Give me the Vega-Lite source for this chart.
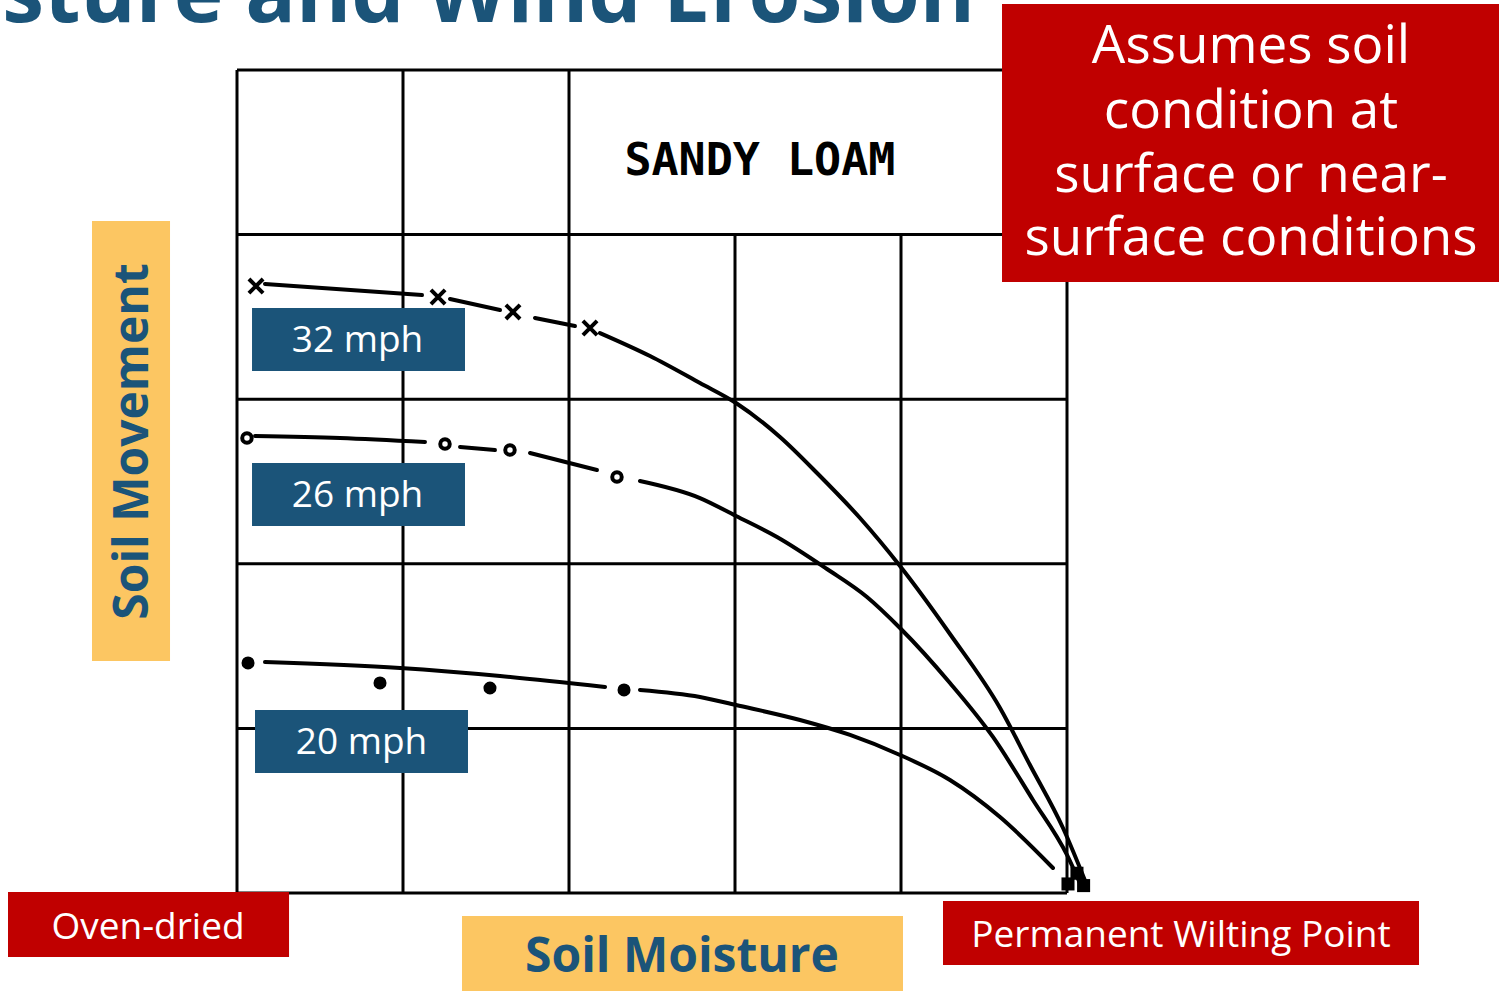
{
  "$schema": "https://vega.github.io/schema/vega-lite/v6.json",
  "autosize": {"type": "none"},
  "width": 830,
  "height": 823,
  "padding": {"left": 237, "top": 70, "right": 432, "bottom": 99},
  "background": "white",
  "config": {"view": {"stroke": null}},
  "datasets": {
    "grid": [
      {"x": 0, "x2": 0, "y": 0, "y2": 100},
      {"x": 20, "x2": 20, "y": 0, "y2": 100},
      {"x": 40, "x2": 40, "y": 0, "y2": 100},
      {"x": 60, "x2": 60, "y": 0, "y2": 80},
      {"x": 80, "x2": 80, "y": 0, "y2": 80},
      {"x": 100, "x2": 100, "y": 0, "y2": 100},
      {"x": 0, "x2": 100, "y": 0, "y2": 0},
      {"x": 0, "x2": 100, "y": 20, "y2": 20},
      {"x": 0, "x2": 100, "y": 40, "y2": 40},
      {"x": 0, "x2": 100, "y": 60, "y2": 60},
      {"x": 0, "x2": 100, "y": 80, "y2": 80},
      {"x": 0, "x2": 100, "y": 100, "y2": 100}
    ],
    "curves": [
      {"series": "32", "seg": "32a", "x": 3.37, "y": 74.0},
      {"series": "32", "seg": "32a", "x": 22.29, "y": 72.66},
      {"series": "32", "seg": "32b", "x": 25.66, "y": 72.17},
      {"series": "32", "seg": "32b", "x": 31.69, "y": 70.84},
      {"series": "32", "seg": "32c", "x": 35.9, "y": 69.87},
      {"series": "32", "seg": "32c", "x": 40.72, "y": 68.89},
      {"series": "32", "seg": "32d", "x": 43.73, "y": 68.04},
      {"series": "32", "seg": "32d", "x": 49.76, "y": 65.25},
      {"series": "32", "seg": "32d", "x": 55.78, "y": 61.97},
      {"series": "32", "seg": "32d", "x": 60.12, "y": 59.54},
      {"series": "32", "seg": "32d", "x": 65.42, "y": 55.41},
      {"series": "32", "seg": "32d", "x": 70.0, "y": 50.91},
      {"series": "32", "seg": "32d", "x": 75.06, "y": 45.56},
      {"series": "32", "seg": "32d", "x": 79.88, "y": 39.73},
      {"series": "32", "seg": "32d", "x": 85.9, "y": 31.47},
      {"series": "32", "seg": "32d", "x": 91.93, "y": 22.48},
      {"series": "32", "seg": "32d", "x": 95.54, "y": 15.55},
      {"series": "32", "seg": "32d", "x": 99.52, "y": 7.9},
      {"series": "32", "seg": "32d", "x": 102.53, "y": 0.61},
      {"series": "26", "seg": "26a", "x": 2.17, "y": 55.53},
      {"series": "26", "seg": "26a", "x": 12.41, "y": 55.29},
      {"series": "26", "seg": "26a", "x": 22.65, "y": 54.8},
      {"series": "26", "seg": "26b", "x": 26.87, "y": 54.19},
      {"series": "26", "seg": "26b", "x": 31.08, "y": 53.83},
      {"series": "26", "seg": "26c", "x": 35.3, "y": 53.46},
      {"series": "26", "seg": "26c", "x": 43.37, "y": 51.4},
      {"series": "26", "seg": "26d", "x": 48.55, "y": 50.06},
      {"series": "26", "seg": "26d", "x": 55.78, "y": 47.99},
      {"series": "26", "seg": "26d", "x": 60.12, "y": 45.81},
      {"series": "26", "seg": "26d", "x": 65.06, "y": 43.26},
      {"series": "26", "seg": "26d", "x": 71.08, "y": 39.37},
      {"series": "26", "seg": "26d", "x": 75.9, "y": 35.97},
      {"series": "26", "seg": "26d", "x": 79.88, "y": 32.2},
      {"series": "26", "seg": "26d", "x": 85.9, "y": 25.52},
      {"series": "26", "seg": "26d", "x": 91.08, "y": 18.96},
      {"series": "26", "seg": "26d", "x": 95.9, "y": 11.3},
      {"series": "26", "seg": "26d", "x": 100.0, "y": 4.62},
      {"series": "26", "seg": "26d", "x": 101.81, "y": 0.61},
      {"series": "20", "seg": "20a", "x": 3.37, "y": 28.07},
      {"series": "20", "seg": "20a", "x": 19.64, "y": 27.34},
      {"series": "20", "seg": "20a", "x": 31.69, "y": 26.37},
      {"series": "20", "seg": "20a", "x": 44.34, "y": 25.03},
      {"series": "20", "seg": "20b", "x": 48.55, "y": 24.67},
      {"series": "20", "seg": "20b", "x": 55.78, "y": 23.82},
      {"series": "20", "seg": "20b", "x": 60.12, "y": 22.84},
      {"series": "20", "seg": "20b", "x": 67.83, "y": 21.02},
      {"series": "20", "seg": "20b", "x": 73.86, "y": 19.2},
      {"series": "20", "seg": "20b", "x": 79.88, "y": 16.77},
      {"series": "20", "seg": "20b", "x": 85.9, "y": 13.73},
      {"series": "20", "seg": "20b", "x": 91.93, "y": 9.23},
      {"series": "20", "seg": "20b", "x": 98.31, "y": 3.04}
    ],
    "markers": [
      {"series": "32", "x": 2.29, "y": 73.75},
      {"series": "32", "x": 24.22, "y": 72.42},
      {"series": "32", "x": 33.25, "y": 70.6},
      {"series": "32", "x": 42.53, "y": 68.65},
      {"series": "26", "x": 1.2, "y": 55.29},
      {"series": "26", "x": 25.06, "y": 54.56},
      {"series": "26", "x": 32.89, "y": 53.83},
      {"series": "26", "x": 45.78, "y": 50.55},
      {"series": "20", "x": 1.33, "y": 27.95},
      {"series": "20", "x": 17.23, "y": 25.52},
      {"series": "20", "x": 30.48, "y": 24.91},
      {"series": "20", "x": 46.63, "y": 24.67},
      {"series": "end", "x": 100.12, "y": 1.1},
      {"series": "end", "x": 101.2, "y": 2.4},
      {"series": "end", "x": 102.0, "y": 0.9}
    ],
    "boxes": [
      {"kind": "speed", "x": 1.81, "x2": 27.47, "y": 71.08, "y2": 63.43},
      {"kind": "speed", "x": 1.81, "x2": 27.47, "y": 52.25, "y2": 44.59},
      {"kind": "speed", "x": 2.17, "x2": 27.83, "y": 22.24, "y2": 14.58},
      {"kind": "note", "x": 92.17, "x2": 152.05, "y": 108.02, "y2": 74.24},
      {"kind": "note", "x": -27.59, "x2": 6.27, "y": 0.12, "y2": -7.78},
      {"kind": "note", "x": 85.06, "x2": 142.41, "y": -0.97, "y2": -8.75},
      {"kind": "axis", "x": 27.11, "x2": 80.24, "y": -2.79, "y2": -11.91},
      {"kind": "axis", "x": -17.47, "x2": -8.07, "y": 81.65, "y2": 28.19}
    ],
    "labels": [
      {"kind": "speed", "text": "32 mph", "x": 14.52, "y": 65.73},
      {"kind": "speed", "text": "26 mph", "x": 14.52, "y": 46.9},
      {"kind": "speed", "text": "20 mph", "x": 15.0, "y": 16.89},
      {"kind": "note", "text": "Assumes soil", "x": 122.17, "y": 100.85},
      {"kind": "note", "text": "condition at", "x": 122.17, "y": 92.95},
      {"kind": "note", "text": "surface or near-", "x": 122.17, "y": 85.18},
      {"kind": "note", "text": "surface conditions", "x": 122.17, "y": 77.52},
      {"kind": "small", "text": "Oven-dried", "x": -10.72, "y": -5.59},
      {"kind": "small", "text": "Permanent Wilting Point", "x": 113.73, "y": -6.56},
      {"kind": "axisx", "text": "Soil Moisture", "x": 53.61, "y": -9.6},
      {"kind": "axisy", "text": "Soil Movement", "x": -10.72, "y": 54.86},
      {"kind": "sandy", "text": "SANDY  LOAM", "x": 63.0, "y": 87.24},
      {"kind": "title", "text": "Soil Moisture and Wind Erosion", "x": 88.92, "y": 105.83}
    ]
  },
  "encoding": {
    "x": {"field": "x", "type": "quantitative", "scale": {"domain": [0, 100], "nice": false, "zero": false}, "axis": null},
    "y": {"field": "y", "type": "quantitative", "scale": {"domain": [0, 100], "nice": false, "zero": false}, "axis": null}
  },
  "layer": [
    {
      "data": {"name": "grid"},
      "mark": {"type": "rule", "color": "black", "strokeWidth": 3},
      "encoding": {"x2": {"field": "x2"}, "y2": {"field": "y2"}}
    },
    {
      "data": {"name": "curves"},
      "mark": {"type": "line", "color": "black", "strokeWidth": 4, "strokeCap": "round", "interpolate": "monotone"},
      "encoding": {"detail": {"field": "seg", "type": "nominal"}, "order": {"field": "x", "type": "quantitative"}}
    },
    {
      "data": {"name": "markers"},
      "transform": [{"filter": "datum.series == '32'"}],
      "mark": {"type": "point", "shape": "M-1,-1L1,1M-1,1L1,-1", "filled": false, "color": "black", "strokeWidth": 4, "size": 200, "opacity": 1},
      "encoding": {}
    },
    {
      "data": {"name": "markers"},
      "transform": [{"filter": "datum.series == '26'"}],
      "mark": {"type": "point", "shape": "circle", "filled": false, "color": "black", "strokeWidth": 4, "size": 90, "opacity": 1},
      "encoding": {}
    },
    {
      "data": {"name": "markers"},
      "transform": [{"filter": "datum.series == '20'"}],
      "mark": {"type": "point", "shape": "circle", "filled": true, "color": "black", "size": 170, "opacity": 1},
      "encoding": {}
    },
    {
      "data": {"name": "markers"},
      "transform": [{"filter": "datum.series == 'end'"}],
      "mark": {"type": "point", "shape": "square", "filled": true, "color": "black", "size": 170, "opacity": 1},
      "encoding": {}
    },
    {
      "data": {"name": "boxes"},
      "mark": {"type": "rect"},
      "encoding": {
        "x2": {"field": "x2"},
        "y2": {"field": "y2"},
        "fill": {"field": "kind", "type": "nominal", "scale": {"domain": ["speed", "note", "axis"], "range": ["#1B5479", "#C00000", "#FCC662"]}, "legend": null}
      }
    },
    {
      "data": {"name": "labels"},
      "transform": [{"filter": "datum.kind == 'speed'"}],
      "mark": {"type": "text", "font": "Open Sans", "fontSize": 37, "color": "white", "align": "center", "baseline": "alphabetic"},
      "encoding": {"text": {"field": "text"}}
    },
    {
      "data": {"name": "labels"},
      "transform": [{"filter": "datum.kind == 'note'"}],
      "mark": {"type": "text", "font": "Open Sans", "fontSize": 53, "color": "white", "align": "center", "baseline": "alphabetic"},
      "encoding": {"text": {"field": "text"}}
    },
    {
      "data": {"name": "labels"},
      "transform": [{"filter": "datum.kind == 'small'"}],
      "mark": {"type": "text", "font": "Open Sans", "fontSize": 37, "color": "white", "align": "center", "baseline": "alphabetic"},
      "encoding": {"text": {"field": "text"}}
    },
    {
      "data": {"name": "labels"},
      "transform": [{"filter": "datum.kind == 'axisx'"}],
      "mark": {"type": "text", "font": "Open Sans", "fontSize": 48, "fontWeight": "bold", "color": "#1B5479", "align": "center", "baseline": "alphabetic"},
      "encoding": {"text": {"field": "text"}}
    },
    {
      "data": {"name": "labels"},
      "transform": [{"filter": "datum.kind == 'axisy'"}],
      "mark": {"type": "text", "font": "Open Sans", "fontSize": 48, "fontWeight": "bold", "color": "#1B5479", "align": "center", "baseline": "alphabetic", "angle": 270},
      "encoding": {"text": {"field": "text"}}
    },
    {
      "data": {"name": "labels"},
      "transform": [{"filter": "datum.kind == 'sandy'"}],
      "mark": {"type": "text", "font": "DejaVu Sans Mono", "fontSize": 45, "fontWeight": "bold", "color": "black", "align": "center", "baseline": "alphabetic"},
      "encoding": {"text": {"field": "text"}}
    },
    {
      "data": {"name": "labels"},
      "transform": [{"filter": "datum.kind == 'title'"}],
      "mark": {"type": "text", "font": "Open Sans", "fontSize": 84, "fontWeight": "bold", "color": "#1B5479", "align": "right", "baseline": "alphabetic"},
      "encoding": {"text": {"field": "text"}}
    }
  ]
}
